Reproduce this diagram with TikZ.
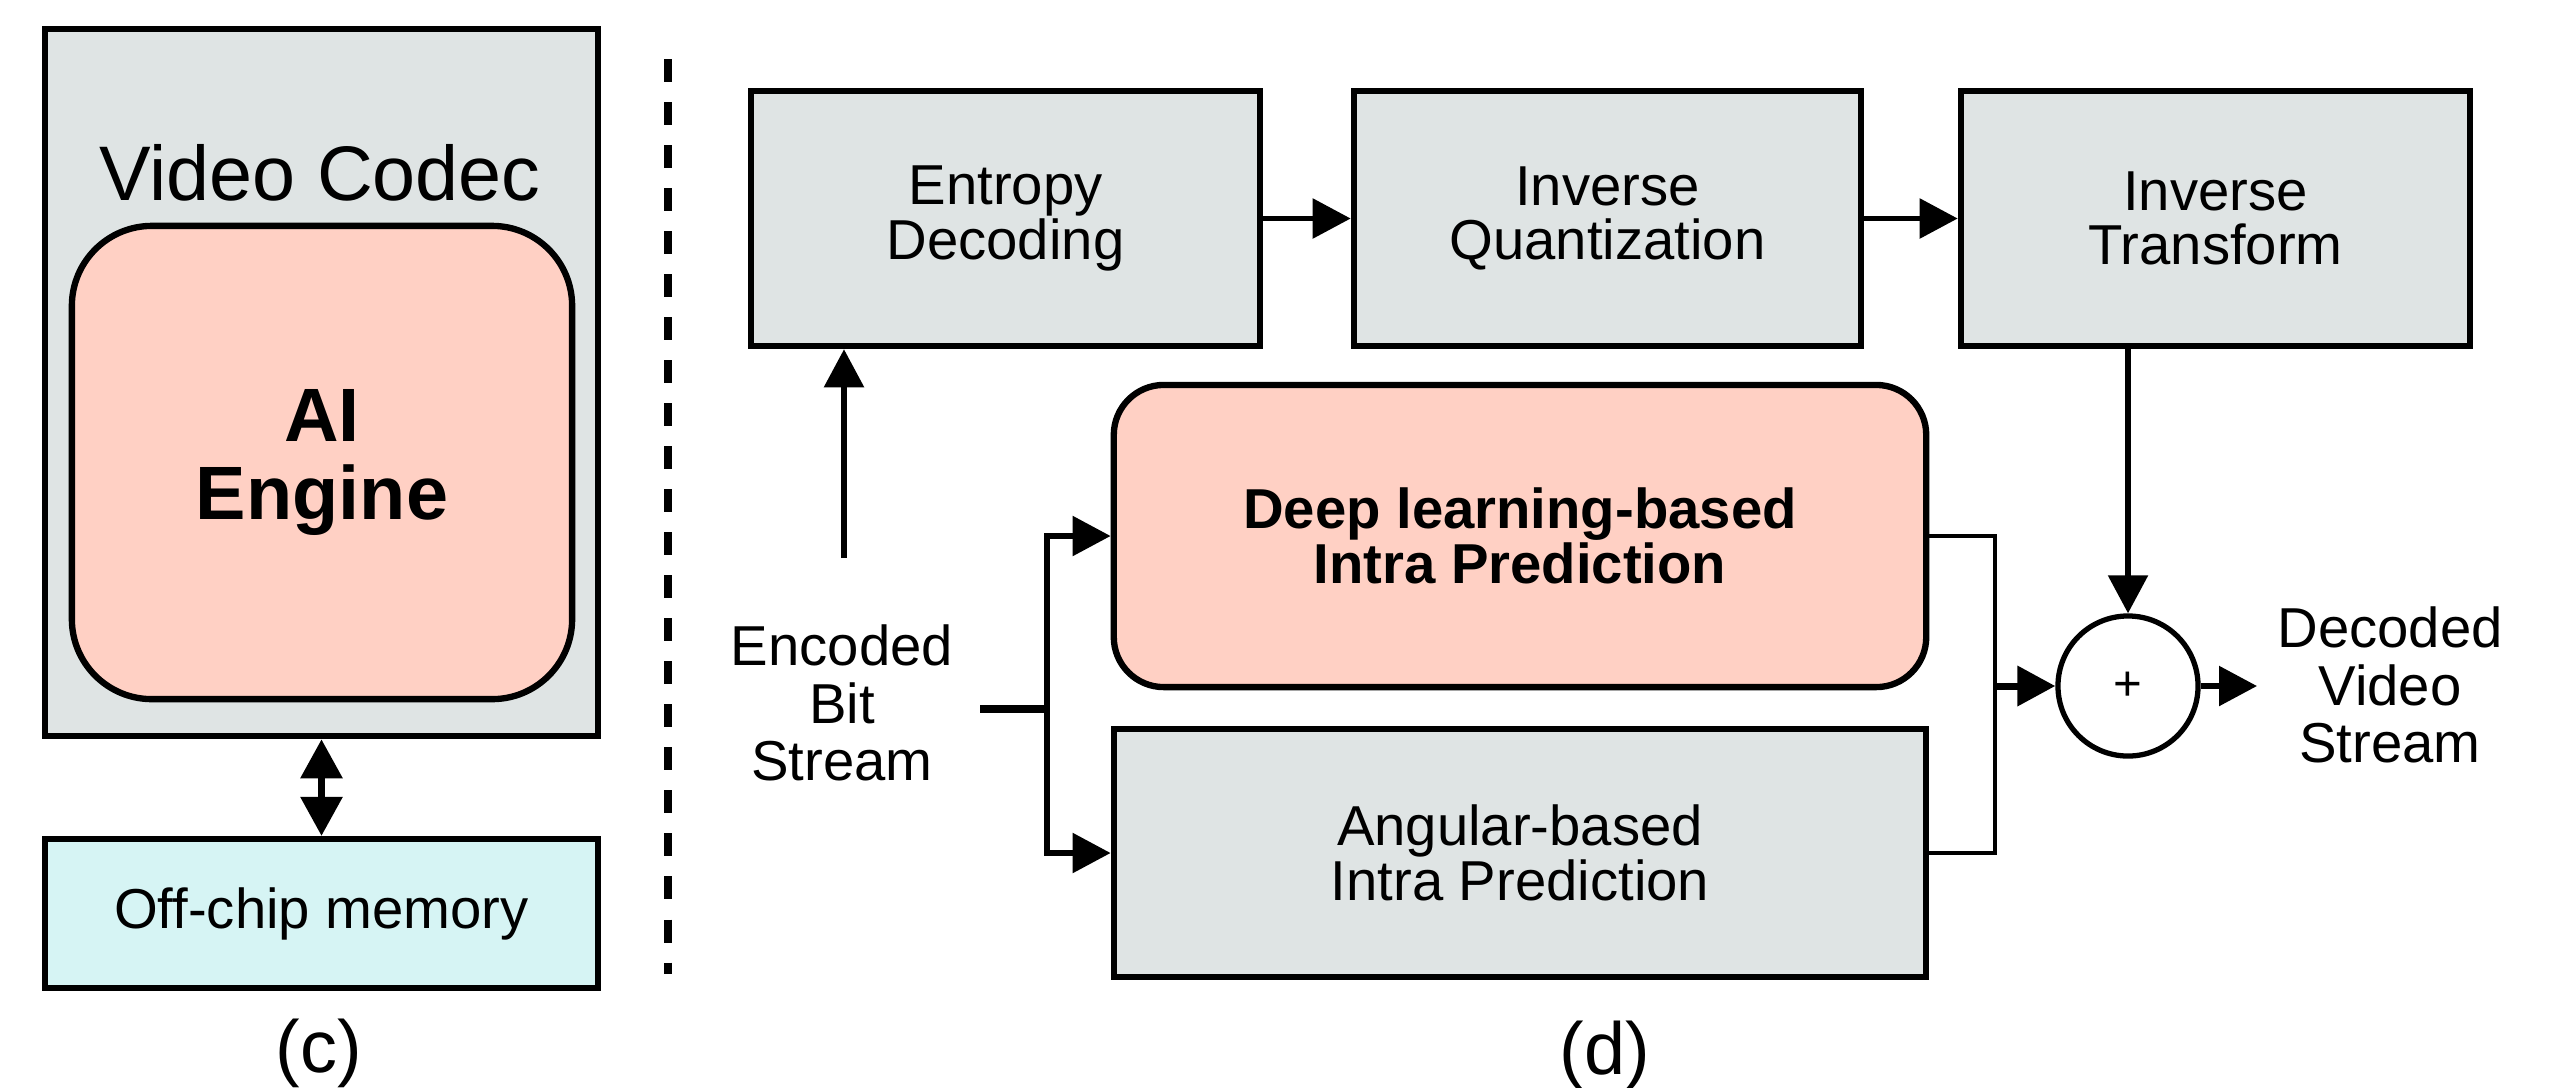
\documentclass[tikz,border=0pt]{standalone}
\usepackage{fontspec}
\setmainfont{Liberation Sans}
\usetikzlibrary{arrows.meta, positioning, calc}
\definecolor{blockgray}{RGB}{223, 228, 228}
\definecolor{blocksalmon}{RGB}{255, 208, 196}
\definecolor{blockcyan}{RGB}{214, 244, 244}
\tikzset{
  stagebox/.style={
    rectangle, inner sep=0pt,
    text centered, align=center, font=\fontsize{16}{15.5}\selectfont,
    draw=black, line width=1.8pt, fill=#1, text=black
  },
  plaintext/.style={
    align=center, inner sep=0pt, font=\fontsize{16}{16.3}\selectfont
  },
  arr/.style={-{Triangle[length=3.8mm, width=3.9mm]}, line width=1.6pt, color=black},
  dblarr/.style={{Triangle[length=3.9mm, width=4.1mm]}-{Triangle[length=3.9mm, width=4.1mm]}, line width=1.8pt},
  wire/.style={line width=#1, color=black},
  sepline/.style={dashed, dash pattern=on 0.23cm off 0.2cm, line width=2pt}
}

\begin{document}
\begin{tikzpicture}[x=0.01cm, y=-0.01cm]
\useasboundingbox (0, 0) rectangle (2549, 1087);

% ── (c) Codec with AI engine ──────────────────────────────
\node[stagebox={blockgray}, minimum width=5.53cm, minimum height=7.07cm] (codec) at (321.5, 382.5) {};
\node[plaintext, font=\fontsize{22}{24}\selectfont] (codectitle) at (320, 173) {Video Codec};
\node[stagebox={blocksalmon}, rounded corners=0.8cm, minimum width=5cm, minimum height=4.73cm,
      font=\bfseries\fontsize{21.5}{22}\selectfont] (aieng) at (322, 462.5) {AI\\Engine};
\node[stagebox={blockcyan}, minimum width=5.53cm, minimum height=1.49cm] (mem) at (321.5, 913.5) {Off-chip memory};
\node[plaintext, font=\fontsize{21}{24}\selectfont] (labc) at (319, 1053) {(c)};

\draw[dblarr] (codec.south) -- (mem.north);

% ── Separator ─────────────────────────────────────────────
\coordinate (septop) at (668, 59);
\coordinate (sepbot) at (668, 974);
\draw[sepline] (septop) -- (sepbot);

% ── (d) Decoder pipeline ──────────────────────────────────
\node[stagebox={blockgray}, minimum width=5.09cm, minimum height=2.55cm] (entropy)  at (1005.5, 218.5) {Entropy\\Decoding};
\node[stagebox={blockgray}, minimum width=5.07cm, minimum height=2.55cm] (invquant) at (1607.5, 218.5) {Inverse\\Quantization};
\node[stagebox={blockgray}, minimum width=5.09cm, minimum height=2.55cm] (invtrans) at (2215.5, 218.5) {Inverse\\Transform};

\node[stagebox={blocksalmon}, rounded corners=0.5cm, minimum width=8.12cm, minimum height=3.02cm,
      font=\bfseries\fontsize{16}{15.5}\selectfont] (dlpred) at (1520, 536) {Deep learning-based\\Intra Prediction};
\node[stagebox={blockgray}, minimum width=8.12cm, minimum height=2.48cm] (angpred) at (1520, 853) {Angular-based\\Intra Prediction};

\node[circle, draw=black, line width=1.5pt, fill=white, minimum size=1.4cm, inner sep=0pt,
      font=\fontsize{14}{14}\selectfont] (sum) at (2128, 686) {+};

\node[plaintext] (bits)    at (842, 703)  {Encoded\\Bit\\Stream};
\node[plaintext] (decoded) at (2390, 685) {Decoded\\Video\\Stream};
\node[plaintext, font=\fontsize{21}{24}\selectfont] (labd) at (1605, 1055) {(d)};

% ── Helper points ─────────────────────────────────────────
\coordinate (bsup)   at (844, 558);
\coordinate (bsin)   at (980, 709);
\coordinate (split)  at (1047, 709);
\coordinate (merge)  at (1995, 686);
\coordinate (outend) at (2257, 686);

% ── Arrows: top row ───────────────────────────────────────
\draw[arr] (entropy)  -- (invquant);
\draw[arr] (invquant) -- (invtrans);
\draw[arr] (bsup) -- (bsup |- entropy.south);

% ── Arrows: bit stream split ──────────────────────────────
\draw[wire=2.5pt] (bsin) -- (split);
\draw[arr] (split) |- (dlpred.west);
\draw[arr] (split) |- (angpred.west);

% ── Arrows: merge and sum ─────────────────────────────────
\draw[wire=1.2pt] (dlpred.east) -- (merge |- dlpred.east) -- (merge |- angpred.east) -- (angpred.east);
\draw[arr, line width=2pt] (merge) -- (sum.west);
\draw[arr] (invtrans.south -| sum.north) -- (sum.north);
\draw[arr] (sum.east) -- (outend);

\end{tikzpicture}
\end{document}
